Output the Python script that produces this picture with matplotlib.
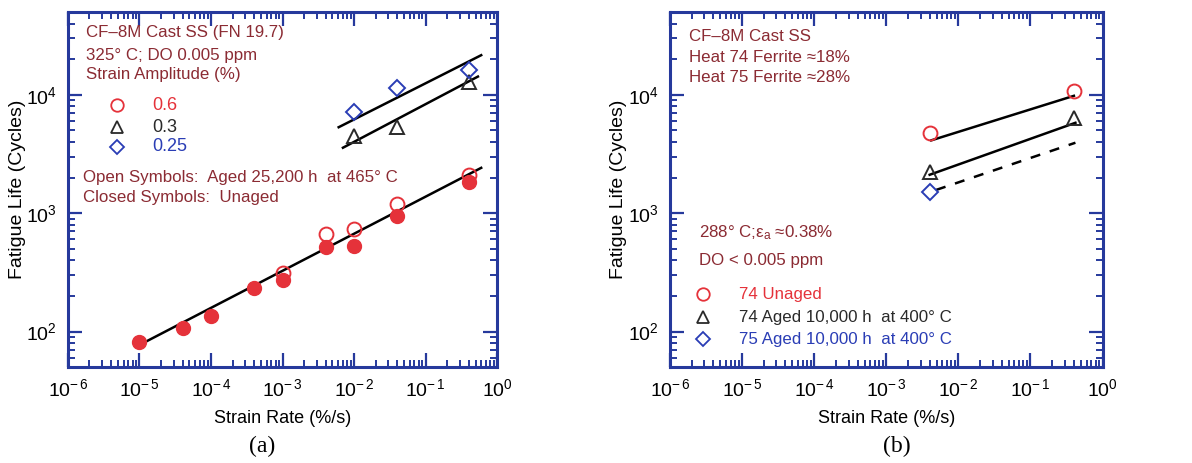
import matplotlib
matplotlib.use('Agg')
import matplotlib.pyplot as plt
from matplotlib.ticker import LogLocator, FuncFormatter, NullFormatter
import numpy as np

plt.rcParams['font.family'] = ['Liberation Sans', 'DejaVu Sans']
plt.rcParams['mathtext.fontset'] = 'custom'
plt.rcParams['mathtext.rm'] = 'Liberation Sans'
plt.rcParams['mathtext.it'] = 'Liberation Sans:italic'

# ---------------- data: panel (a) ----------------
a_unaged_x = [1e-5, 4e-5, 1e-4, 4e-4, 1e-3, 4e-3, 1e-2, 4e-2, 0.4]
a_unaged_y = [81, 107, 134, 231, 271, 522, 532, 950, 1830]
a_aged06_x = [1e-3, 4e-3, 1e-2, 4e-2, 0.4]
a_aged06_y = [314, 667, 735, 1190, 2120]
a_aged03_x = [1e-2, 4e-2, 0.4]
a_aged03_y = [4480, 5320, 12900]
a_aged025_x = [1e-2, 4e-2, 0.4]
a_aged025_y = [7110, 11370, 16200]
# fitted lines (end points)
a_fit06_x = [1e-5, 0.6]
a_fit06_y = [77, 2414]
a_fit03_x = [7e-3, 0.54]
a_fit03_y = [3570, 14250]
a_fit025_x = [6.1e-3, 0.6]
a_fit025_y = [5320, 21600]

# ---------------- data: panel (b) ----------------
b_unaged74_x = [4e-3, 0.4]
b_unaged74_y = [4780, 10800]
b_aged74_x = [4e-3, 0.4]
b_aged74_y = [2230, 6370]
b_aged75_x = [4e-3]
b_aged75_y = [1520]
b_fit_unaged74_x = [4.2e-3, 0.4]
b_fit_unaged74_y = [4120, 9800]
b_fit_aged74_x = [4e-3, 0.42]
b_fit_aged74_y = [2110, 5800]
b_fit_aged75_x = [4.9e-3, 0.42]
b_fit_aged75_y = [1570, 3935]

x_decades = [1e-6, 1e-5, 1e-4, 1e-3, 1e-2, 1e-1, 1]
y_decades = [1e2, 1e3, 1e4]

RED = '#e5323a'
BLUE = '#2a3db5'
DARK = '#2a2a2a'
TXT = '#8b2b33'
AXC = '#26399c'


def sup_fmt(v, pos):
    e = int(round(np.log10(v)))
    if e < 0:
        return r'$\mathregular{10^{-\,%d}}$' % (-e)
    return r'$\mathregular{10^{%d}}$' % e


def style_axes(ax):
    ax.set_xscale('log')
    ax.set_yscale('log')
    ax.set_xlim(1e-6, 1)
    ax.set_ylim(50, 50000)
    ax.set_xticks(x_decades)
    ax.set_yticks(y_decades)
    ax.xaxis.set_minor_locator(LogLocator(base=10, subs=np.arange(2, 10), numticks=10))
    ax.yaxis.set_minor_locator(LogLocator(base=10, subs=np.arange(2, 10), numticks=10))
    ax.xaxis.set_major_formatter(FuncFormatter(sup_fmt))
    ax.yaxis.set_major_formatter(FuncFormatter(sup_fmt))
    ax.xaxis.set_minor_formatter(NullFormatter())
    ax.yaxis.set_minor_formatter(NullFormatter())
    ax.tick_params(which='both', direction='in', top=True, right=True,
                   color=AXC, labelsize=14, labelcolor='black')
    ax.tick_params(which='major', length=10, width=1.6, pad=8)
    ax.tick_params(which='minor', length=5, width=1.4)
    for s in ax.spines.values():
        s.set_color(AXC)
        s.set_linewidth(2.2)
    ax.set_xlabel('Strain Rate (%/s)', fontsize=13, labelpad=7)
    ax.set_ylabel('Fatigue Life (Cycles)', fontsize=14)
    ax.yaxis.set_label_coords(-0.098, 0.5)


fig = plt.figure(figsize=(11.92, 4.63), dpi=100)
ax1 = fig.add_axes([0.057, 0.207, 0.360, 0.767])
ax2 = fig.add_axes([0.562, 0.207, 0.363, 0.767])

# ---------------- panel (a) ----------------
style_axes(ax1)
ax1.plot(a_fit06_x, a_fit06_y, color='black', lw=1.8, zorder=2)
ax1.plot(a_fit03_x, a_fit03_y, color='black', lw=1.8, zorder=2)
ax1.plot(a_fit025_x, a_fit025_y, color='black', lw=1.8, zorder=2)
ax1.plot(a_unaged_x, a_unaged_y, 'o', ms=10, mfc=RED, mec=RED, zorder=3)
ax1.plot(a_aged06_x, a_aged06_y, 'o', ms=10, mfc='none', mec=RED, mew=1.4, zorder=3)
ax1.plot(a_aged03_x, a_aged03_y, '^', ms=10, mfc='none', mec=DARK, mew=1.4, zorder=3)
ax1.plot(a_aged025_x, a_aged025_y, 'D', ms=8, mfc='none', mec=BLUE, mew=1.4, zorder=3)

tk = dict(transform=ax1.transAxes, fontsize=12.2, color=TXT, va='center', ha='left')
ax1.text(0.042, 0.941, 'CF–8M Cast SS (FN 19.7)', **tk)
ax1.text(0.042, 0.879, '325° C; DO 0.005 ppm', **tk)
ax1.text(0.042, 0.823, 'Strain Amplitude (%)', **tk)
leg_y = [0.738, 0.676, 0.62]
ax1.plot([0.114], [leg_y[0]], 'o', ms=9, mfc='none', mec=RED, mew=1.3, transform=ax1.transAxes)
ax1.plot([0.114], [leg_y[1]], '^', ms=9, mfc='none', mec=DARK, mew=1.3, transform=ax1.transAxes)
ax1.plot([0.114], [leg_y[2]], 'D', ms=7, mfc='none', mec=BLUE, mew=1.3, transform=ax1.transAxes)
lk = dict(transform=ax1.transAxes, fontsize=13, va='center')
ax1.text(0.196, leg_y[0], '0.6', color=RED, **lk)
ax1.text(0.196, leg_y[1], '0.3', color=DARK, **lk)
ax1.text(0.196, leg_y[2], '0.25', color=BLUE, **lk)
ax1.text(0.035, 0.535, 'Open Symbols:  Aged 25,200 h  at 465° C', **tk)
ax1.text(0.035, 0.479, 'Closed Symbols:  Unaged', **tk)

# ---------------- panel (b) ----------------
style_axes(ax2)
ax2.plot(b_fit_unaged74_x, b_fit_unaged74_y, color='black', lw=1.8, zorder=2)
ax2.plot(b_fit_aged74_x, b_fit_aged74_y, color='black', lw=1.8, zorder=2)
ax2.plot(b_fit_aged75_x, b_fit_aged75_y, color='black', lw=1.8, ls=(0, (4, 4)), zorder=2)
ax2.plot(b_unaged74_x, b_unaged74_y, 'o', ms=10, mfc='none', mec=RED, mew=1.4, zorder=3)
ax2.plot(b_aged74_x, b_aged74_y, '^', ms=10, mfc='none', mec=DARK, mew=1.4, zorder=3)
ax2.plot(b_aged75_x, b_aged75_y, 'D', ms=8, mfc='none', mec=BLUE, mew=1.4, zorder=3)

tk2 = dict(tk, transform=ax2.transAxes)
ax2.text(0.044, 0.932, 'CF–8M Cast SS', **tk2)
ax2.text(0.044, 0.873, 'Heat 74 Ferrite ≈18%', **tk2)
ax2.text(0.044, 0.817, 'Heat 75 Ferrite ≈28%', **tk2)
ax2.text(0.067, 0.380, r'288° C;$\mathregular{\varepsilon_a}$ ≈0.38%', **tk2)
ax2.text(0.067, 0.301, 'DO < 0.005 ppm', **tk2)
leg_y2 = [0.205, 0.141, 0.079]
ax2.plot([0.076], [leg_y2[0]], 'o', ms=9, mfc='none', mec=RED, mew=1.3, transform=ax2.transAxes)
ax2.plot([0.076], [leg_y2[1]], '^', ms=9, mfc='none', mec=DARK, mew=1.3, transform=ax2.transAxes)
ax2.plot([0.076], [leg_y2[2]], 'D', ms=7, mfc='none', mec=BLUE, mew=1.3, transform=ax2.transAxes)
lk2 = dict(lk, transform=ax2.transAxes, fontsize=12.2)
ax2.text(0.159, leg_y2[0], '74 Unaged', color=RED, **lk2)
ax2.text(0.159, leg_y2[1], '74 Aged 10,000 h  at 400° C', color=DARK, **lk2)
ax2.text(0.159, leg_y2[2], '75 Aged 10,000 h  at 400° C', color=BLUE, **lk2)

# panel captions
fig.text(0.22, 0.035, '(a)', fontsize=17, family=['Liberation Serif', 'DejaVu Serif'], ha='center', va='center')
fig.text(0.752, 0.035, '(b)', fontsize=17, family=['Liberation Serif', 'DejaVu Serif'], ha='center', va='center')

fig.savefig('out.png', dpi=100)
